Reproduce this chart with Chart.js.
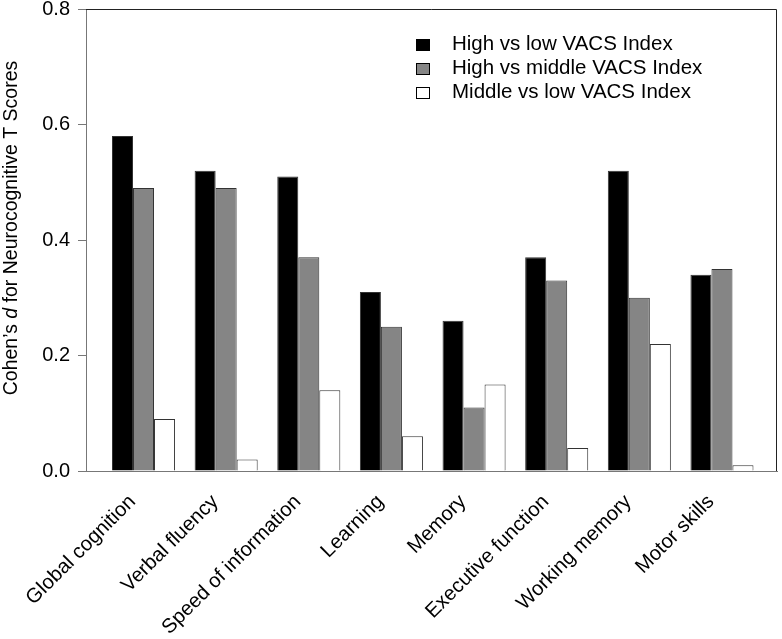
<!DOCTYPE html>
<html>
<head>
<meta charset="utf-8">
<script src="https://cdn.jsdelivr.net/npm/chart.js"></script>
<style>
  body { margin: 0; background: #fff; }
  #wrap { position: relative; width: 782px; height: 639px; }
  #legend { position: absolute; left: 416px; top: 31px; font-family: "Liberation Sans", Arial, sans-serif; font-size: 20.5px; color: #000; }
  #legend div { height: 24px; line-height: 24px; white-space: nowrap; }
  #legend span.box { display: inline-block; width: 14px; height: 12px; border: 1px solid #000; box-sizing: border-box; vertical-align: -1px; margin-right: 22px; }
</style>
</head>
<body>
<div id="wrap">
  <canvas id="chart" width="782" height="639"></canvas>
  <div id="legend"></div>
</div>
<script>
const categories = ['Global cognition', 'Verbal fluency', 'Speed of information', 'Learning',
                    'Memory', 'Executive function', 'Working memory', 'Motor skills'];
const highVsLow    = [0.58, 0.52, 0.51, 0.31, 0.26, 0.37, 0.52, 0.34];
const highVsMiddle = [0.49, 0.49, 0.37, 0.25, 0.11, 0.33, 0.30, 0.35];
const middleVsLow  = [0.09, 0.02, 0.14, 0.06, 0.15, 0.04, 0.22, 0.01];
const seriesNames  = ['High vs low VACS Index', 'High vs middle VACS Index', 'Middle vs low VACS Index'];
const yTicks = [0, 0.2, 0.4, 0.6, 0.8];

const FONT = '"Liberation Sans", Arial, sans-serif';

// box round the plot area and the y title with an italic d
const frame = {
    id: 'frame',
    afterDraw(chart) {
        const ctx = chart.ctx;
        const a = chart.chartArea;
        ctx.save();
        ctx.strokeStyle = '#222';
        ctx.lineWidth = 1;
        ctx.beginPath();
        ctx.moveTo(a.left, a.top + 0.5);
        ctx.lineTo(a.right - 0.5, a.top + 0.5);
        ctx.lineTo(a.right - 0.5, a.bottom);
        ctx.stroke();

        const parts = [['Cohen\u2019s ', 'normal'], ['d', 'italic'], [' for Neurocognitive T Scores', 'normal']];
        let total = 0;
        parts.forEach(p => { ctx.font = p[1] + ' 19.5px ' + FONT; total += ctx.measureText(p[0]).width; });
        ctx.translate(12, 228);
        ctx.rotate(-Math.PI / 2);
        ctx.fillStyle = '#000';
        ctx.textBaseline = 'middle';
        let x = -total / 2;
        parts.forEach(p => {
            ctx.font = p[1] + ' 19.5px ' + FONT;
            ctx.fillText(p[0], x, 0);
            x += ctx.measureText(p[0]).width;
        });
        ctx.restore();
    }
};

const colors = ['#000000', '#858585', '#ffffff'];
const data = {
    labels: categories.map((c, i) => i),
    datasets: [highVsLow, highVsMiddle, middleVsLow].map((vals, i) => ({
        label: seriesNames[i],
        data: vals,
        backgroundColor: colors[i],
        borderColor: '#333',
        borderWidth: 1,
        categoryPercentage: 0.763,
        barPercentage: 1.0,
    }))
};

const chart = new Chart(document.getElementById('chart'), {
    type: 'bar',
    data: data,
    options: {
        responsive: false,
        animation: false,
        layout: { padding: { top: 9, right: 5, left: 0, bottom: 0 } },
        plugins: { legend: { display: false }, tooltip: { enabled: false } },
        scales: {
            x: {
                type: 'linear',
                offset: false,
                min: -0.696,
                max: 7.666,
                afterBuildTicks: (scale) => { scale.ticks = categories.map((c, i) => ({ value: i })); },
                afterFit: (scale) => { scale.height = 168; scale.paddingLeft = 0; scale.paddingRight = 0; },
                grid: { display: false },
                border: { color: '#777', width: 1 },
                ticks: {
                    autoSkip: false,
                    minRotation: 45,
                    maxRotation: 45,
                    padding: 11,
                    labelOffset: -11,
                    color: '#000',
                    font: { family: FONT, size: 20.3 },
                    callback: (v) => categories[v]
                }
            },
            y: {
                min: 0,
                max: 0.8,
                afterBuildTicks: (scale) => { scale.ticks = yTicks.map(v => ({ value: v })); },
                afterFit: (scale) => { scale.width = 86; scale.paddingTop = 0; scale.paddingBottom = 0; },
                grid: { drawOnChartArea: false, drawTicks: true, tickLength: 8, color: '#777' },
                border: { color: '#777', width: 1 },
                ticks: {
                    padding: 8,
                    color: '#000',
                    font: { family: FONT, size: 20 },
                    callback: (v) => v.toFixed(1)
                }
            }
        }
    },
    plugins: [frame]
});

// legend in the top right of the plot, built from the datasets
const legend = document.getElementById('legend');
chart.data.datasets.forEach(ds => {
    const row = document.createElement('div');
    const box = document.createElement('span');
    box.className = 'box';
    box.style.background = ds.backgroundColor;
    row.appendChild(box);
    row.appendChild(document.createTextNode(ds.label));
    legend.appendChild(row);
});
</script>
</body>
</html>
